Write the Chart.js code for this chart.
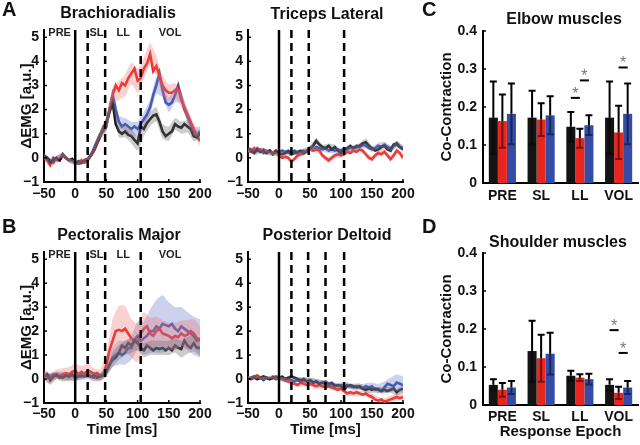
<!DOCTYPE html>
<html>
<head>
<meta charset="utf-8">
<script src="https://cdn.jsdelivr.net/npm/chart.js@4/dist/chart.umd.min.js"></script>
<style>
  body { margin: 0; background: #fff; }
  #fig { position: relative; width: 640px; height: 445px; overflow: hidden;
         font-family: 'Liberation Sans', Arial, sans-serif; font-weight: bold; color: #111; }
  #fig canvas { position: absolute; left: 0; top: 0; }
  .txt { position: absolute; transform: translate(-50%, -50%); white-space: nowrap; font-size: 16px; }
  .letter { position: absolute; font-size: 20px; line-height: 1; }
</style>
</head>
<body>
<div id="fig">
  <canvas id="brach" width="640" height="445"></canvas>
  <canvas id="tric" width="640" height="445"></canvas>
  <canvas id="pect" width="640" height="445"></canvas>
  <canvas id="delt" width="640" height="445"></canvas>
  <canvas id="elbow" width="640" height="445"></canvas>
  <canvas id="shoulder" width="640" height="445"></canvas>

  <div class="letter" style="left:2px;top:-1px">A</div>
  <div class="letter" style="left:2px;top:216px">B</div>
  <div class="letter" style="left:422px;top:-1px">C</div>
  <div class="letter" style="left:422px;top:216px">D</div>

  <div class="txt" style="left:118px;top:13px">Brachioradialis</div>
  <div class="txt" style="left:327px;top:14px">Triceps Lateral</div>
  <div class="txt" style="left:564px;top:19px">Elbow muscles</div>
  <div class="txt" style="left:119px;top:235px">Pectoralis Major</div>
  <div class="txt" style="left:327px;top:235px">Posterior Deltoid</div>
  <div class="txt" style="left:558px;top:242px">Shoulder muscles</div>
</div>
<script>
// time base (ms) for the traces, and coarser one for the shaded error bands
const times = [-50, -45, -40, -35, -30, -25, -20, -15, -10, -5, 0, 5, 10, 15, 20, 25, 30, 35, 40, 45,
  50, 55, 60, 65, 70, 75, 80, 85, 90, 95, 100, 105, 110, 115, 120, 125, 130, 135, 140, 145,
  150, 155, 160, 165, 170, 175, 180, 185, 190, 195, 200];
const bandTimes = [-50, -40, -30, -20, -10, 0, 10, 20, 30, 40, 50, 60, 70, 80, 90, 100, 110, 120, 130, 140,
  150, 160, 170, 180, 190, 200];
const timeTicks = [-50, 0, 50, 100, 150, 200];
const emgTicks = [-1, 0, 1, 2, 3, 4, 5];

// Brachioradialis
const brachBlack = [0.1, 0.0, -0.2, -0.1, 0.0, -0.1, 0.15, 0.0, -0.1, -0.05,
  -0.2, -0.15, -0.2, -0.1, -0.05, 0.1, 0.3, 0.6, 0.9, 1.2,
  1.5, 1.9, 2.3, 1.4, 1.1, 1.0, 1.1, 0.95, 0.9, 0.75,
  0.6, 1.3, 1.2, 1.45, 1.6, 1.75, 1.8, 1.5, 1.1, 0.9,
  1.0, 1.1, 1.4, 1.3, 1.25, 1.4, 1.3, 1.2, 0.9, 0.85, 1.0];
const brachRed = [0.0, -0.1, -0.3, 0.0, -0.1, -0.1, 0.1, 0.0, -0.1, -0.1,
  -0.2, -0.2, -0.1, -0.2, -0.1, 0.1, 0.3, 0.6, 0.9, 1.3,
  1.4, 2.0, 2.6, 3.0, 2.8, 3.1, 3.0, 3.3, 3.5, 3.7,
  3.2, 3.3, 3.7, 3.9, 4.3, 3.6, 3.8, 3.4, 3.0, 2.8,
  2.7, 2.7, 2.8, 2.9, 2.4, 2.1, 1.8, 1.5, 1.2, 0.9, 0.7];
const brachBlue = [0.1, 0.0, -0.1, -0.2, 0.0, -0.1, 0.1, 0.0, -0.1, -0.05,
  -0.2, -0.25, -0.2, -0.1, -0.05, 0.1, 0.4, 0.7, 1.0, 1.1,
  1.3, 2.0, 2.6, 2.0, 1.5, 1.3, 1.4, 1.3, 1.2, 1.3,
  1.2, 1.4, 1.6, 1.8, 2.1, 2.6, 3.0, 3.5, 2.8, 2.3,
  2.2, 2.3, 2.6, 3.0, 2.5, 2.0, 1.7, 1.4, 1.1, 0.9, 1.1];
const brachBandBlack = [0.08, 0.08, 0.08, 0.08, 0.08, 0.08, 0.08, 0.1, 0.12, 0.15, 0.2, 0.25, 0.25,
  0.25, 0.3, 0.3, 0.3, 0.3, 0.3, 0.3, 0.3, 0.25, 0.25, 0.25, 0.2, 0.2];
const brachBandRed = [0.1, 0.1, 0.1, 0.1, 0.1, 0.1, 0.1, 0.12, 0.15, 0.2, 0.3, 0.35, 0.4,
  0.45, 0.45, 0.5, 0.45, 0.45, 0.4, 0.4, 0.35, 0.3, 0.3, 0.25, 0.2, 0.2];
const brachBandBlue = [0.08, 0.08, 0.08, 0.08, 0.08, 0.08, 0.08, 0.1, 0.12, 0.15, 0.2, 0.25, 0.25,
  0.25, 0.3, 0.3, 0.3, 0.3, 0.35, 0.3, 0.3, 0.3, 0.25, 0.25, 0.2, 0.2];

// Triceps Lateral
const tricBlack = [0.4, 0.3, 0.2, 0.35, 0.25, 0.3, 0.2, 0.3, 0.15, 0.25,
  0.2, 0.15, 0.2, 0.25, 0.15, 0.2, 0.25, 0.3, 0.2, 0.3,
  0.4, 0.5, 0.7, 0.55, 0.45, 0.4, 0.5, 0.35, 0.45, 0.3,
  0.2, 0.35, 0.4, 0.5, 0.4, 0.45, 0.5, 0.6, 0.65, 0.5,
  0.4, 0.3, 0.35, 0.45, 0.5, 0.35, 0.3, 0.55, 0.6, 0.45, 0.35];
const tricRed = [0.3, 0.25, 0.4, 0.3, 0.35, 0.2, 0.3, 0.25, 0.2, 0.3,
  0.1, 0.0, 0.05, 0.0, -0.15, -0.05, 0.1, 0.15, 0.2, 0.3,
  0.35, 0.3, 0.35, 0.3, 0.1, 0.0, -0.1, 0.0, 0.1, 0.15,
  0.1, 0.15, 0.25, 0.2, 0.3, 0.25, 0.35, 0.3, 0.15, 0.0,
  -0.05, 0.1, 0.2, 0.15, 0.25, 0.1, -0.05, 0.1, 0.3, 0.2, 0.0];
const tricBlue = [0.3, 0.35, 0.25, 0.4, 0.3, 0.35, 0.25, 0.3, 0.2, 0.3,
  0.25, 0.3, 0.25, 0.3, 0.2, 0.3, 0.2, 0.25, 0.3, 0.25,
  0.4, 0.35, 0.45, 0.4, 0.35, 0.4, 0.3, 0.35, 0.3, 0.35,
  0.3, 0.4, 0.35, 0.45, 0.4, 0.5, 0.45, 0.55, 0.5, 0.4,
  0.35, 0.4, 0.5, 0.45, 0.55, 0.45, 0.4, 0.5, 0.55, 0.45, 0.4];
const tricBandBlack = [0.08, 0.08, 0.08, 0.08, 0.08, 0.08, 0.08, 0.08, 0.08, 0.1, 0.1, 0.12, 0.1,
  0.1, 0.1, 0.1, 0.1, 0.1, 0.12, 0.15, 0.1, 0.1, 0.1, 0.1, 0.12, 0.1];
const tricBandRed = [0.08, 0.08, 0.08, 0.08, 0.08, 0.08, 0.08, 0.1, 0.1, 0.1, 0.1, 0.1, 0.1,
  0.12, 0.1, 0.1, 0.1, 0.1, 0.1, 0.1, 0.12, 0.12, 0.12, 0.12, 0.12, 0.12];
const tricBandBlue = [0.08, 0.08, 0.08, 0.08, 0.08, 0.08, 0.08, 0.08, 0.08, 0.1, 0.1, 0.1, 0.1,
  0.1, 0.1, 0.1, 0.12, 0.12, 0.12, 0.1, 0.1, 0.12, 0.12, 0.12, 0.12, 0.12];

// Pectoralis Major
const pectBlack = [0.1, 0.2, -0.05, 0.1, 0.15, 0.1, 0.05, 0.15, 0.1, 0.2,
  0.05, 0.1, 0.15, 0.1, 0.2, 0.1, 0.15, 0.05, 0.1, 0.15,
  0.3, 0.6, 0.8, 0.9, 1.1, 1.4, 1.3, 1.5, 1.4, 1.6,
  1.5, 1.3, 1.2, 1.4, 1.3, 1.2, 1.3, 1.25, 1.3, 1.2,
  1.3, 1.2, 1.4, 1.3, 1.25, 1.6, 1.4, 1.3, 1.5, 1.3, 1.3];
const pectRed = [0.2, 0.1, 0.0, 0.15, 0.2, 0.1, 0.2, 0.25, 0.2, 0.3,
  0.35, 0.2, 0.3, 0.2, 0.35, 0.3, 0.2, 0.25, 0.15, 0.2,
  0.6, 1.2, 1.6, 2.0, 2.05, 2.0, 2.1, 1.9, 1.7, 1.6,
  1.5, 1.9, 2.1, 2.2, 1.9, 1.8, 2.0, 2.1, 1.9, 1.85,
  1.8, 1.7, 1.8, 1.75, 1.9, 1.8, 1.85, 2.0, 1.9, 1.7, 1.6];
const pectBlue = [0.15, 0.2, 0.1, 0.2, 0.15, 0.05, 0.15, 0.2, 0.1, 0.15,
  0.1, 0.15, 0.1, 0.2, 0.15, 0.1, 0.05, 0.15, 0.1, 0.2,
  0.35, 0.6, 0.9, 1.0, 1.1, 1.0, 1.1, 1.3, 1.3, 1.6,
  1.8, 1.6, 1.7, 1.8, 2.0, 2.0, 2.2, 2.1, 2.3, 2.25,
  2.2, 2.3, 2.1, 2.0, 2.2, 2.1, 2.0, 1.9, 1.8, 1.6, 1.7];
const pectBandBlack = [0.15, 0.15, 0.15, 0.15, 0.15, 0.15, 0.15, 0.15, 0.15, 0.15, 0.2, 0.3, 0.3,
  0.3, 0.3, 0.3, 0.3, 0.3, 0.3, 0.3, 0.3, 0.3, 0.35, 0.35, 0.35, 0.35];
const pectBandRed = [0.2, 0.25, 0.2, 0.25, 0.3, 0.3, 0.25, 0.3, 0.25, 0.25, 0.45, 0.9, 1.0,
  0.95, 0.8, 0.8, 0.7, 0.65, 0.6, 0.55, 0.55, 0.55, 0.55, 0.6, 0.6, 0.6];
const pectBandBlue = [0.15, 0.15, 0.15, 0.15, 0.15, 0.15, 0.15, 0.15, 0.15, 0.15, 0.2, 0.4, 0.5,
  0.5, 0.5, 0.6, 0.7, 0.9, 1.1, 1.2, 1.0, 0.9, 0.8, 0.8, 0.8, 0.8];

// Posterior Deltoid
const deltBlack = [0.0, 0.05, 0.1, 0.0, 0.05, 0.1, 0.05, 0.0, 0.05, 0.1,
  0.05, 0.1, 0.0, 0.05, 0.1, 0.05, 0.0, -0.05, 0.0, -0.1,
  -0.05, -0.15, -0.1, -0.2, -0.15, -0.2, -0.25, -0.2, -0.3, -0.25,
  -0.3, -0.45, -0.3, -0.25, -0.3, -0.35, -0.3, -0.4, -0.45, -0.4,
  -0.45, -0.4, -0.45, -0.5, -0.45, -0.5, -0.45, -0.4, -0.55, -0.45, -0.4];
const deltRed = [0.05, 0.0, 0.1, 0.15, 0.05, 0.1, 0.05, 0.0, 0.1, 0.0,
  0.05, 0.0, -0.05, -0.1, -0.15, -0.2, -0.25, -0.15, -0.2, -0.25,
  -0.2, -0.25, -0.3, -0.25, -0.3, -0.35, -0.3, -0.35, -0.4, -0.45,
  -0.4, -0.5, -0.6, -0.55, -0.6, -0.55, -0.6, -0.65, -0.6, -0.7,
  -0.75, -0.85, -0.9, -0.85, -0.95, -0.9, -0.85, -0.8, -0.75, -0.8, -0.75];
const deltBlue = [0.05, 0.0, 0.05, 0.0, 0.05, -0.05, 0.05, 0.0, 0.05, 0.0,
  0.05, 0.0, -0.05, 0.0, -0.05, -0.1, -0.05, -0.1, -0.05, -0.1,
  -0.05, -0.15, -0.1, -0.2, -0.15, -0.1, -0.2, -0.15, -0.25, -0.3,
  -0.25, -0.3, -0.25, -0.3, -0.35, -0.3, -0.35, -0.4, -0.3, -0.35,
  -0.3, -0.45, -0.4, -0.5, -0.35, -0.2, -0.25, -0.3, -0.15, -0.2, -0.25];
const deltBandBlack = [0.06, 0.06, 0.06, 0.06, 0.06, 0.08, 0.08, 0.08, 0.08, 0.08, 0.1, 0.1, 0.1,
  0.1, 0.1, 0.1, 0.1, 0.1, 0.12, 0.12, 0.12, 0.12, 0.12, 0.12, 0.15, 0.15];
const deltBandRed = [0.06, 0.06, 0.06, 0.06, 0.06, 0.08, 0.08, 0.08, 0.08, 0.08, 0.1, 0.1, 0.1,
  0.1, 0.1, 0.1, 0.12, 0.12, 0.12, 0.12, 0.15, 0.15, 0.15, 0.15, 0.15, 0.15];
const deltBandBlue = [0.06, 0.06, 0.06, 0.06, 0.06, 0.1, 0.1, 0.08, 0.08, 0.08, 0.1, 0.1, 0.1,
  0.1, 0.1, 0.1, 0.12, 0.12, 0.12, 0.12, 0.15, 0.2, 0.25, 0.3, 0.35, 0.35];

// epoch boundaries (dashed) and labels
const armDashes = [20, 48, 105];
const deltDashes = [20, 47, 75, 105];
const epochNames = ['PRE', 'SL', 'LL', 'VOL'];
const epochCenters = [-25, 34, 77, 152];

// co-contraction bars
const epochs = ['PRE', 'SL', 'LL', 'VOL'];
const coTicks = [0, 0.1, 0.2, 0.3, 0.4];
const elbowBlack = [0.172, 0.172, 0.148, 0.172];
const elbowRed = [0.163, 0.167, 0.118, 0.133];
const elbowBlue = [0.182, 0.178, 0.152, 0.182];
const elbowErrBlack = [0.095, 0.071, 0.039, 0.095];
const elbowErrRed = [0.07, 0.043, 0.025, 0.07];
const elbowErrBlue = [0.08, 0.05, 0.026, 0.08];
const elbowSig = [[2, 0, 1, 0.224], [2, 1, 2, 0.27], [3, 1, 2, 0.304]];
const shoulderBlack = [0.053, 0.142, 0.077, 0.053];
const shoulderRed = [0.04, 0.123, 0.072, 0.032];
const shoulderBlue = [0.046, 0.135, 0.068, 0.046];
const shoulderErrBlack = [0.015, 0.08, 0.013, 0.015];
const shoulderErrRed = [0.018, 0.062, 0.009, 0.016];
const shoulderErrBlue = [0.017, 0.055, 0.014, 0.017];
const shoulderSig = [[3, 0, 1, 0.197], [3, 1, 2, 0.137]];

const BLACK = 'rgb(20,20,20)';
const RED = 'rgb(232,38,32)';
const BLUE = 'rgb(52,76,166)';
const GREY_BAND = 'rgba(110,110,110,0.35)';
const RED_BAND = 'rgba(238,110,110,0.32)';
const BLUE_BAND = 'rgba(110,122,205,0.35)';
const FONT = "'Liberation Sans', Arial, sans-serif";

Chart.defaults.font.family = FONT;
Chart.defaults.font.weight = 'bold';
Chart.defaults.color = '#111';
Chart.defaults.animation = false;

const minus = v => String(v).replace('-', '\u2212');

function overlay(cfg) {
  return {
    id: 'overlay',
    afterDatasetsDraw(chart) {
      const { ctx, chartArea: a, scales: { x, y } } = chart;
      ctx.save();
      ctx.strokeStyle = '#000';
      ctx.fillStyle = '#000';
      ctx.lineWidth = 1.5;
      // small inward ticks
      y.ticks.forEach(t => {
        const py = y.getPixelForValue(t.value);
        ctx.beginPath(); ctx.moveTo(a.left, py); ctx.lineTo(a.left + 3, py); ctx.stroke();
      });
      if (x.type === 'linear') {
        x.ticks.forEach(t => {
          const px = x.getPixelForValue(t.value);
          ctx.beginPath(); ctx.moveTo(px, a.bottom); ctx.lineTo(px, a.bottom - 3); ctx.stroke();
        });
      }
      if (cfg.dashes) {
        ctx.lineWidth = 2.5;
        const p0 = x.getPixelForValue(0);
        ctx.beginPath(); ctx.moveTo(p0, a.bottom); ctx.lineTo(p0, a.top); ctx.stroke();
        ctx.setLineDash([8, 5]);
        cfg.dashes.forEach(v => {
          const px = x.getPixelForValue(v);
          ctx.beginPath(); ctx.moveTo(px, a.top); ctx.lineTo(px, a.bottom); ctx.stroke();
        });
        ctx.setLineDash([]);
      }
      if (cfg.epochs) {
        ctx.font = 'bold 11px ' + FONT;
        ctx.textAlign = 'center';
        ctx.textBaseline = 'middle';
        ctx.fillStyle = '#222';
        epochNames.forEach((n, i) => ctx.fillText(n, x.getPixelForValue(epochCenters[i]), a.top + 3));
      }
      if (cfg.errors) {
        cfg.errors.forEach((errs, di) => {
          const meta = chart.getDatasetMeta(di);
          const means = chart.data.datasets[di].data;
          meta.data.forEach((bar, i) => {
            const top = y.getPixelForValue(means[i] + errs[i]);
            const bot = y.getPixelForValue(means[i] - errs[i]);
            ctx.lineWidth = 2;
            ctx.strokeStyle = '#000';
            ctx.beginPath();
            ctx.moveTo(bar.x, bar.y); ctx.lineTo(bar.x, top);
            ctx.moveTo(bar.x - 3.5, top); ctx.lineTo(bar.x + 3.5, top);
            ctx.stroke();
            ctx.strokeStyle = 'rgba(0,0,0,0.5)';
            ctx.beginPath();
            ctx.moveTo(bar.x, bar.y); ctx.lineTo(bar.x, bot);
            ctx.moveTo(bar.x - 3.5, bot); ctx.lineTo(bar.x + 3.5, bot);
            ctx.stroke();
          });
        });
      }
      if (cfg.sig) {
        cfg.sig.forEach(([cat, i, j, v]) => {
          const x1 = chart.getDatasetMeta(i).data[cat].x;
          const x2 = chart.getDatasetMeta(j).data[cat].x;
          const py = y.getPixelForValue(v);
          ctx.strokeStyle = '#000';
          ctx.lineWidth = 2;
          ctx.beginPath(); ctx.moveTo(x1, py); ctx.lineTo(x2, py); ctx.stroke();
          ctx.fillStyle = '#777';
          ctx.font = '16px ' + FONT;
          ctx.textAlign = 'center';
          ctx.textBaseline = 'alphabetic';
          ctx.fillText('*', (x1 + x2) / 2, py + 1);
        });
      }
      ctx.restore();
    }
  };
}

function padFor(area, yW, xH) {
  return { left: area.l - yW, top: area.t, right: 640 - area.r, bottom: 445 - area.b - xH };
}

function scaleY(min, max, ticks, yW, title, pad, fmt) {
  return {
    type: 'linear', min: min, max: max,
    afterBuildTicks: s => { s.ticks = ticks.map(v => ({ value: v })); },
    afterFit: s => { s.width = yW; },
    grid: { display: false, drawTicks: false },
    border: { display: true, color: '#000', width: 2 },
    ticks: { padding: pad, font: { size: 14, weight: 'bold' }, callback: fmt },
    title: { display: !!title, text: title || '', padding: 0, font: { size: 15, weight: 'bold' } }
  };
}

const series = vals => vals.map((v, i) => ({ x: times[i], y: v }));
const band = (vals, w, sign) => bandTimes.map((t, i) => ({ x: t, y: vals[times.indexOf(t)] + sign * w[i] }));

function emgChart(id, k, r, b, wk, wr, wb, area, opts) {
  const ds = [];
  [[k, wk, GREY_BAND], [r, wr, RED_BAND], [b, wb, BLUE_BAND]].forEach(([v, w, c]) => {
    ds.push({ data: band(v, w, 1), borderWidth: 0, pointRadius: 0, fill: false, tension: 0.2 });
    ds.push({ data: band(v, w, -1), borderWidth: 0, pointRadius: 0, fill: '-1', backgroundColor: c, tension: 0.2 });
  });
  [[k, BLACK], [r, RED], [b, BLUE]].forEach(([v, c]) => {
    ds.push({ data: series(v), borderColor: c, borderWidth: 2.6, pointRadius: 0, fill: false });
  });
  new Chart(document.getElementById(id), {
    type: 'line',
    data: { datasets: ds },
    options: {
      responsive: false,
      layout: { padding: padFor(area, opts.yW, opts.xH) },
      plugins: { legend: { display: false }, tooltip: { enabled: false } },
      scales: {
        x: {
          type: 'linear', min: -50, max: 200,
          afterBuildTicks: s => { s.ticks = timeTicks.map(v => ({ value: v })); },
          afterFit: s => { s.height = opts.xH; },
          grid: { display: false, drawTicks: false },
          border: { display: true, color: '#000', width: 2 },
          ticks: { padding: opts.xPad, maxRotation: 0, font: { size: 14, weight: 'bold' }, callback: minus },
          title: { display: !!opts.xTitle, text: opts.xTitle || '', padding: 0, font: { size: 15, weight: 'bold' } }
        },
        y: scaleY(-1, 5.3, emgTicks, opts.yW, opts.yTitle, 5, minus)
      }
    },
    plugins: [overlay({ dashes: opts.dashes, epochs: opts.epochs })]
  });
}

function coChart(id, k, r, b, ek, er, eb, sig, area, opts) {
  new Chart(document.getElementById(id), {
    type: 'bar',
    data: {
      labels: epochs,
      datasets: [
        { data: k, backgroundColor: BLACK },
        { data: r, backgroundColor: RED },
        { data: b, backgroundColor: BLUE }
      ]
    },
    options: {
      responsive: false,
      layout: { padding: padFor(area, opts.yW, opts.xH) },
      datasets: { bar: { categoryPercentage: 0.7, barPercentage: 1.0, borderWidth: 0 } },
      plugins: { legend: { display: false }, tooltip: { enabled: false } },
      scales: {
        x: {
          afterFit: s => { s.height = opts.xH; },
          grid: { display: false, drawTicks: false },
          border: { display: true, color: '#000', width: 2 },
          ticks: { padding: opts.xPad, font: { size: 14, weight: 'bold' } },
          title: { display: !!opts.xTitle, text: opts.xTitle || '', padding: 0, font: { size: 15, weight: 'bold' } }
        },
        y: scaleY(0, 0.4, coTicks, opts.yW, 'Co-Contraction', 6, v => (v === 0 ? '0' : v.toFixed(1)))
      }
    },
    plugins: [overlay({ errors: [ek, er, eb], sig: sig })]
  });
}

emgChart('brach', brachBlack, brachRed, brachBlue, brachBandBlack, brachBandRed, brachBandBlue,
  { l: 44, t: 30, r: 200, b: 182 },
  { yW: 26, xH: 24, xPad: 4, yTitle: '\u0394EMG [a.u.]', dashes: armDashes, epochs: true });
emgChart('tric', tricBlack, tricRed, tricBlue, tricBandBlack, tricBandRed, tricBandBlue,
  { l: 248, t: 30, r: 403, b: 182 },
  { yW: 24, xH: 24, xPad: 4, dashes: armDashes, epochs: false });
emgChart('pect', pectBlack, pectRed, pectBlue, pectBandBlack, pectBandRed, pectBandBlue,
  { l: 44, t: 252, r: 200, b: 403 },
  { yW: 26, xH: 36, xPad: 3, yTitle: '\u0394EMG [a.u.]', xTitle: 'Time [ms]', dashes: armDashes, epochs: true });
emgChart('delt', deltBlack, deltRed, deltBlue, deltBandBlack, deltBandRed, deltBandBlue,
  { l: 248, t: 252, r: 403, b: 403 },
  { yW: 24, xH: 36, xPad: 3, xTitle: 'Time [ms]', dashes: deltDashes, epochs: false });

coChart('elbow', elbowBlack, elbowRed, elbowBlue, elbowErrBlack, elbowErrRed, elbowErrBlue, elbowSig,
  { l: 483, t: 31, r: 638, b: 183 }, { yW: 45, xH: 24, xPad: 5 });
coChart('shoulder', shoulderBlack, shoulderRed, shoulderBlue, shoulderErrBlack, shoulderErrRed, shoulderErrBlue, shoulderSig,
  { l: 483, t: 253, r: 638, b: 405 }, { yW: 45, xH: 36, xPad: 4, xTitle: 'Response Epoch' });
</script>
</body>
</html>
